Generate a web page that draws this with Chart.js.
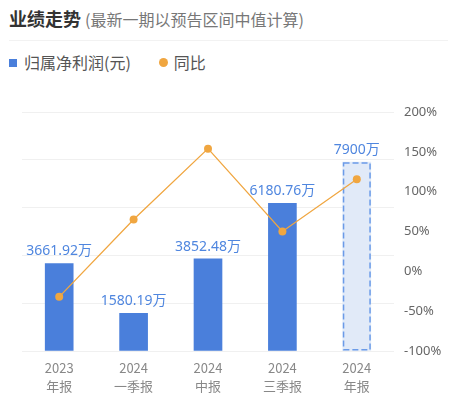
<!DOCTYPE html>
<html>
<head>
<meta charset="utf-8">
<script src="https://cdn.jsdelivr.net/npm/chart.js@4/dist/chart.umd.min.js"></script>
<style>
    body { margin: 0; background: #fff; font-family: "Noto Sans CJK SC", "Noto Sans", sans-serif; }
    #wrap { position: relative; width: 451px; height: 398px; overflow: hidden; }
    #title { position: absolute; left: 9px; top: 5px; white-space: nowrap; color: #333; }
    #title b { font-size: 18px; font-weight: bold; }
    #title span { font-size: 16px; color: #777; margin-left: 4px; }
    #sep { position: absolute; left: 9px; right: 3px; top: 40px; height: 1px; background: #f2f2f2; }
    #legend { position: absolute; left: 9px; top: 50px; font-size: 16px; color: #555; white-space: nowrap; }
    #legend .sq { display: inline-block; width: 8px; height: 8px; background: #4a7fdb; margin-right: 7px; vertical-align: 2px; }
    #legend .dot { display: inline-block; width: 9px; height: 9px; border-radius: 50%; background: #f0a640; margin-left: 28px; margin-right: 6px; vertical-align: 2px; }
    canvas { position: absolute; left: 0; top: 0; }
</style>
</head>
<body>
<div id="wrap">
    <div id="title"><b>业绩走势</b><span>(最新一期以预告区间中值计算)</span></div>
    <div id="sep"></div>
    <div id="legend"><span class="sq"></span>归属净利润(元)<span class="dot"></span>同比</div>
    <canvas id="myChart" width="451" height="398"></canvas>
</div>
<script>
var periods = [["2023", "年报"], ["2024", "一季报"], ["2024", "中报"], ["2024", "三季报"], ["2024", "年报"]];
var profit = [3661.92, 1580.19, 3852.48, 6180.76, 7900];
var profit_labels = ["3661.92万", "1580.19万", "3852.48万", "6180.76万", "7900万"];
var yoy = [-32, 65, 154, 50, 115.7];
var forecast_index = 4;

var bar_colors = [];
for (let i = 0; i < profit.length; i++) {
    bar_colors.push(i == forecast_index ? "#e1eaf8" : "#4a7fdb");
}

// labels above bars + dashed outline for the forecast bar
var bar_extras = {
    id: 'bar_extras',
    afterDatasetDraw(chart, args) {
        if (args.index != 0) return;
        let ctx = chart.ctx;
        let meta = chart.getDatasetMeta(0);
        ctx.save();
        let el = meta.data[forecast_index];
        let p = el.getProps(['x', 'y', 'base', 'width'], true);
        ctx.strokeStyle = "#6b9be8";
        ctx.lineWidth = 1.5;
        ctx.setLineDash([6, 3]);
        ctx.strokeRect(p.x - p.width / 2 + 0.75, p.y + 0.75, p.width - 1.5, p.base - p.y - 1.5);
        ctx.setLineDash([]);
        ctx.font = '14px "Noto Sans", "Noto Sans CJK SC", sans-serif';
        ctx.fillStyle = "#4f86df";
        ctx.textAlign = "center";
        ctx.textBaseline = "middle";
        for (let i = 0; i < meta.data.length; i++) {
            let b = meta.data[i].getProps(['x', 'y'], true);
            ctx.fillText(profit_labels[i], b.x, b.y - 12);
        }
        ctx.restore();
    }
};

var ctx = document.getElementById('myChart');
var chart = new Chart(ctx, {
    data: {
        labels: periods,
        datasets: [
            {
                type: 'bar',
                label: '归属净利润(元)',
                data: profit,
                yAxisID: 'y',
                backgroundColor: bar_colors,
                barThickness: 28,
                order: 1,
            },
            {
                type: 'line',
                label: '同比',
                data: yoy,
                yAxisID: 'y1',
                borderColor: '#f0a640',
                backgroundColor: '#f0a640',
                borderWidth: 1.3,
                pointRadius: 4,
                pointBorderWidth: 0,
                tension: 0,
                order: 0,
            },
        ]
    },
    options: {
        responsive: false,
        animation: false,
        layout: { padding: { top: 112, left: 22, right: 0, bottom: 0 } },
        plugins: {
            legend: { display: false },
            tooltip: { enabled: false },
        },
        scales: {
            x: {
                offset: true,
                grid: { display: false },
                border: { display: false },
                ticks: {
                    padding: 0,
                    color: '#888',
                    font: { size: 13, family: '"Noto Sans CJK SC", sans-serif', lineHeight: '18px' },
                    maxRotation: 0,
                },
                afterFit(scale) { scale.height = 47; },
            },
            y: {
                position: 'left',
                min: 0,
                max: 10000,
                ticks: { display: false, stepSize: 2000 },
                grid: { color: '#f0f0f0', drawTicks: false, lineWidth: 1 },
                border: { display: false },
                afterFit(scale) { scale.width = 0; },
            },
            y1: {
                position: 'right',
                min: -100,
                max: 200,
                ticks: {
                    stepSize: 50,
                    padding: 10,
                    color: '#666',
                    font: { size: 13, family: '"Noto Sans", sans-serif' },
                    callback: (v) => v + '%',
                },
                grid: { display: false, drawTicks: false },
                border: { display: false },
                afterFit(scale) { scale.width = 57; },
            }
        }
    },
    plugins: [bar_extras]
});
</script>
</body>
</html>
